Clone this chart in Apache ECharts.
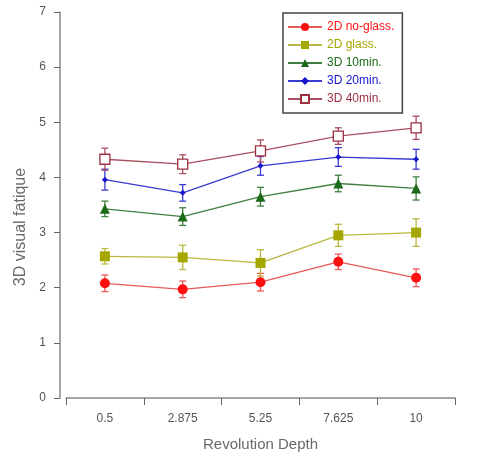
<!DOCTYPE html>
<html lang="en">
<head>
    <meta charset="UTF-8">
    <title>3D visual fatique</title>
    <script src="https://cdn.jsdelivr.net/npm/echarts@6/dist/echarts.min.js"></script>
    <style>
        html, body { margin: 0; padding: 0; background: #fff; }
        #main { width: 489px; height: 457px; }
    </style>
</head>
<body>
<div id="main"></div>
<script>
    // data
    var depths = ['0.5', '2.875', '5.25', '7.625', '10'];
    var names = ['2D no-glass.', '2D glass.', '3D 10min.', '3D 20min.', '3D 40min.'];

    var noGlass = [2.08, 1.97, 2.10, 2.47, 2.18];
    var noGlassErr = [0.15, 0.15, 0.16, 0.14, 0.16];
    var glass = [2.57, 2.55, 2.45, 2.95, 3.00];
    var glassErr = [0.14, 0.22, 0.24, 0.20, 0.25];
    var min10 = [3.43, 3.29, 3.65, 3.89, 3.80];
    var min10Err = [0.14, 0.16, 0.17, 0.15, 0.21];
    var min20 = [3.96, 3.72, 4.21, 4.37, 4.33];
    var min20Err = [0.19, 0.15, 0.17, 0.17, 0.18];
    var min40 = [4.33, 4.24, 4.48, 4.75, 4.90];
    var min40Err = [0.20, 0.17, 0.20, 0.15, 0.21];

    var yTicks = [0, 1, 2, 3, 4, 5, 6, 7];

    var values = [noGlass, glass, min10, min20, min40];
    var errors = [noGlassErr, glassErr, min10Err, min20Err, min40Err];
    var lineColors = ['#e85a5a', '#b8b840', '#3f7f3f', '#3a3ad0', '#a85060'];
    var markColors = ['#ff1010', '#a6a600', '#1a6a1a', '#1515d0', '#9a3040'];
    var symbols = ['circle', 'rect', 'triangle', 'diamond', 'rect'];
    var symSizes = [10, 10, 10, 6, 10];

    var myChart = echarts.init(document.getElementById('main'));

    var series = [];
    names.forEach(function (n, i) {
        series.push({
            type: 'line',
            name: n,
            z: 2,
            data: values[i],
            symbol: symbols[i],
            symbolSize: symSizes[i],
            showAllSymbol: true,
            lineStyle: {color: lineColors[i], width: 1.3},
            itemStyle: i === 4
                ? {color: '#fff', borderColor: markColors[i], borderWidth: 1.3}
                : {color: markColors[i], borderColor: markColors[i], borderWidth: 0}
        });
        // error bars
        series.push({
            type: 'custom',
            name: n + ' error',
            silent: true,
            z: 1,
            data: values[i].map(function (v, k) {
                return [k, v - errors[i][k], v + errors[i][k]];
            }),
            renderItem: function (params, api) {
                var lo = api.coord([api.value(0), api.value(1)]);
                var hi = api.coord([api.value(0), api.value(2)]);
                var c = 3.5;
                var st = {stroke: lineColors[i], lineWidth: 1.3};
                return {
                    type: 'group',
                    children: [
                        {type: 'line', shape: {x1: lo[0], y1: lo[1], x2: hi[0], y2: hi[1]}, style: st},
                        {type: 'line', shape: {x1: lo[0] - c, y1: lo[1], x2: lo[0] + c, y2: lo[1]}, style: st},
                        {type: 'line', shape: {x1: hi[0] - c, y1: hi[1], x2: hi[0] + c, y2: hi[1]}, style: st}
                    ]
                };
            }
        });
    });

    var option = {
        backgroundColor: '#fff',
        animation: false,
        textStyle: {fontFamily: 'Liberation Sans, Arial, sans-serif'},
        grid: {left: 66, right: 34, top: 12, bottom: 59, containLabel: false},
        legend: {
            orient: 'vertical',
            left: 283,
            top: 13,
            width: 154,
            padding: [8, 8, 8, 4],
            itemGap: 6,
            itemWidth: 34,
            itemHeight: 10,
            backgroundColor: '#fff',
            borderColor: '#444',
            borderWidth: 1.5,
            borderRadius: 0,
            data: names.map(function (n, i) {
                return {name: n, textStyle: {color: markColors[i], fontSize: 12}};
            })
        },
        xAxis: {
            type: 'category',
            data: depths,
            boundaryGap: true,
            offset: 6,
            name: 'Revolution Depth',
            nameLocation: 'middle',
            nameGap: 33,
            nameTextStyle: {color: '#6a6a6a', fontSize: 15},
            axisLine: {lineStyle: {color: '#888', width: 1.5}},
            axisTick: {show: true, alignWithLabel: false, interval: 0, length: 7, inside: false, lineStyle: {color: '#666'}},
            axisLabel: {color: '#555', fontSize: 12, margin: 9}
        },
        yAxis: {
            type: 'value',
            min: yTicks[0],
            max: yTicks[yTicks.length - 1],
            interval: 1,
            offset: 6,
            name: '3D visual fatique',
            nameLocation: 'middle',
            nameGap: 31,
            nameRotate: 90,
            nameTextStyle: {color: '#6a6a6a', fontSize: 16, padding: [0, 44, 0, 0]},
            splitLine: {show: false},
            axisLine: {show: true, lineStyle: {color: '#888', width: 1.5}},
            axisTick: {show: true, length: 6, lineStyle: {color: '#666'}},
            axisLabel: {color: '#555', fontSize: 12, margin: 14}
        },
        series: series
    };
    myChart.setOption(option);
</script>
</body>
</html>
